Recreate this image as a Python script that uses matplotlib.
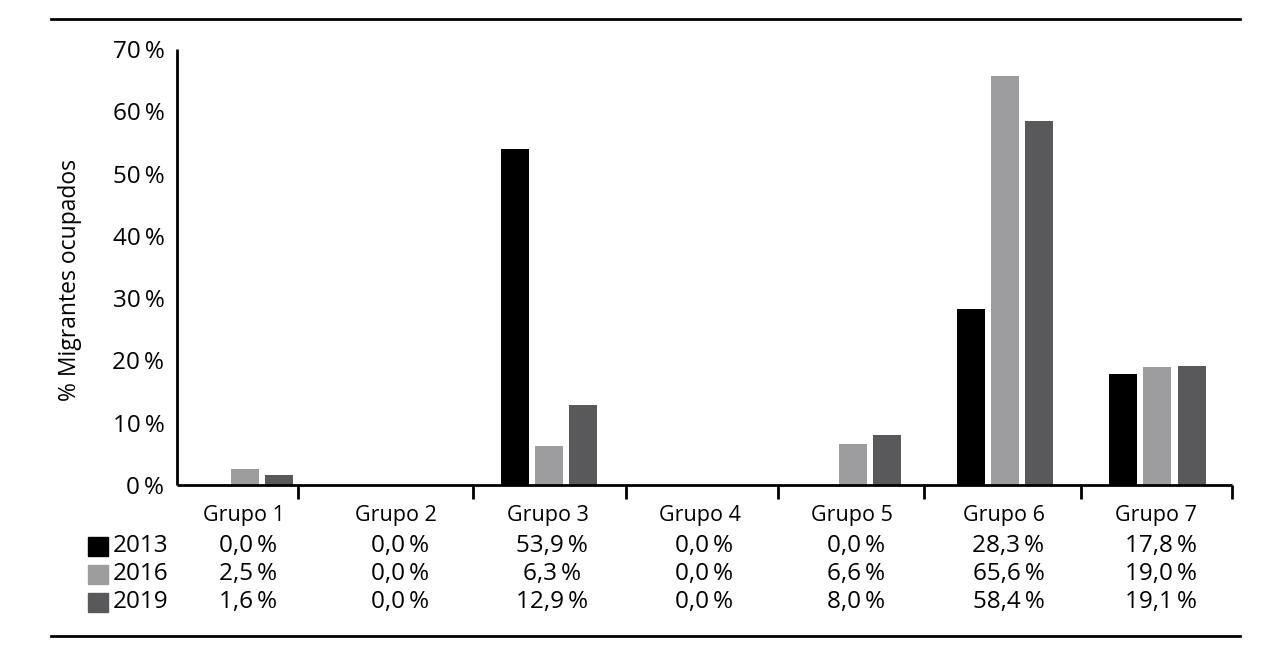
import numpy as np
import matplotlib
matplotlib.use('Agg')
import matplotlib.pyplot as plt
from matplotlib.transforms import blended_transform_factory
from matplotlib.patches import Rectangle
from matplotlib.lines import Line2D

plt.rcParams['font.family'] = ['Open Sans', 'DejaVu Sans']

# Data
groups = ['Grupo 1', 'Grupo 2', 'Grupo 3', 'Grupo 4', 'Grupo 5', 'Grupo 6', 'Grupo 7']
years = ['2013', '2016', '2019']
v2013 = [0.0, 0.0, 53.9, 0.0, 0.0, 28.3, 17.8]
v2016 = [2.5, 0.0, 6.3, 0.0, 6.6, 65.6, 19.0]
v2019 = [1.6, 0.0, 12.9, 0.0, 8.0, 58.4, 19.1]
yticks = [0, 10, 20, 30, 40, 50, 60, 70]

series = [v2013, v2016, v2019]
colors = ['#000000', '#9d9d9f', '#59595b']

NUM_FS = 17.5

fig = plt.figure(figsize=(12.72, 6.48), dpi=100)
ax = fig.add_axes([177 / 1272, 1 - 485 / 648, (1232 - 177) / 1272, (485 - 49) / 648])

x = np.arange(len(groups))
width = 0.184
step = 0.224
for i, (vals, c) in enumerate(zip(series, colors)):
    ax.bar(x + (i - 1) * step, vals, width=width, color=c, zorder=2)

ax.set_xlim(-0.447, 6.49)
ax.set_ylim(0, 70)

for s in ['top', 'right']:
    ax.spines[s].set_visible(False)
for s in ['left', 'bottom']:
    ax.spines[s].set_linewidth(2)
    ax.spines[s].set_capstyle('butt')

ax.set_yticks(yticks)
ax.set_yticklabels([f'{t}\u2009%' for t in yticks], fontsize=NUM_FS)
ax.tick_params(axis='y', length=0, pad=9)

# category boundary ticks (as in original, slightly irregular)
ax.set_xticks([])
ax.set_xticks([0.349, 1.5, 2.507, 3.507, 4.467, 5.5, 6.49], minor=True)
ax.tick_params(axis='x', which='minor', length=10, width=2, direction='out')

fig.text(70 / 1272, 1 - 280 / 648, '% Migrantes ocupados', rotation=90,
         fontsize=16.5, ha='center', va='center')

# data table below
tr = blended_transform_factory(ax.transData, fig.transFigure)
row_y = [1 - 516 / 648, 1 - 546 / 648, 1 - 574 / 648, 1 - 602 / 648]
for j, g in enumerate(groups):
    ax.text(j - 0.01, row_y[0], g, transform=tr, ha='center', va='center', fontsize=15.5)
    for i, vals in enumerate(series):
        txt = f'{vals[j]:.1f}'.replace('.', ',') + '\u2009%'
        ax.text(j + 0.02, row_y[i + 1], txt, transform=tr, ha='center', va='center',
                fontsize=NUM_FS)

for i, (yr, c) in enumerate(zip(years, colors)):
    yc = row_y[i + 1]
    fig.patches.append(Rectangle((88 / 1272, yc - 9.5 / 648), 20 / 1272, 19 / 648,
                                 transform=fig.transFigure, color=c))
    fig.text(113 / 1272, yc, yr, ha='left', va='center', fontsize=NUM_FS)

# horizontal rules
for yy in [19, 636]:
    fig.lines.append(Line2D([51 / 1272, 1240 / 1272], [1 - yy / 648, 1 - yy / 648],
                            transform=fig.transFigure, color='black', linewidth=2))

fig.savefig('out.png', dpi=100)
